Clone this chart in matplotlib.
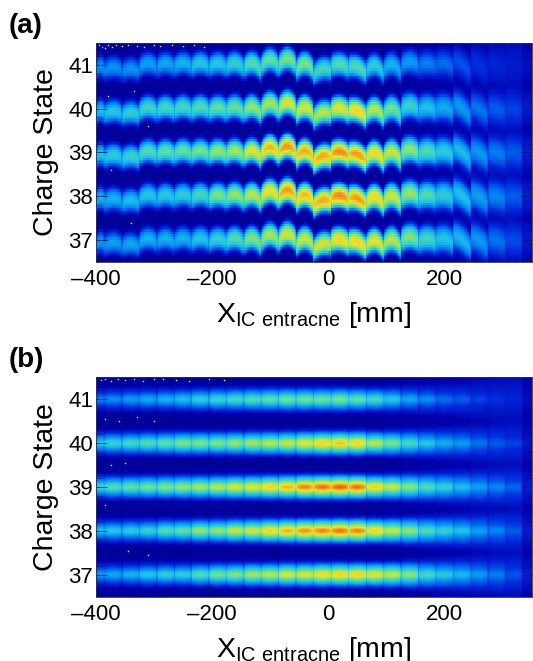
import matplotlib
matplotlib.use("Agg")
import matplotlib.pyplot as plt
import numpy as np
from matplotlib.colors import LinearSegmentedColormap
from matplotlib.ticker import MultipleLocator

plt.rcParams["font.family"] = ["Liberation Sans", "DejaVu Sans"]
plt.rcParams["mathtext.fontset"] = "custom"
plt.rcParams["mathtext.rm"] = "Liberation Sans"

# Detector segment edges [mm]
edges = [-400, -386, -356, -326, -296, -266, -236, -206, -176, -146, -116, -86, -56, -26,
         5, 35, 65, 95, 125, 155, 185, 215, 245, 275, 305, 334, 350]
states = [41, 40, 39, 38, 37]

# Peak colour level of every band in every segment
peaks_a = {
    41: [.33, .33, .33, .35, .36, .38, .42, .42, .45, .50, .52, .55, .55, .48, .50, .50, .44, .38, .34, .30, .28, .25, .21, .19, .17, .14],
    40: [.40, .42, .44, .47, .48, .48, .50, .52, .53, .58, .60, .66, .66, .62, .68, .72, .62, .54, .46, .41, .37, .34, .29, .26, .23, .17],
    39: [.42, .44, .46, .50, .52, .53, .55, .58, .60, .68, .76, .80, .78, .78, .82, .80, .72, .65, .58, .50, .44, .40, .34, .30, .26, .18],
    38: [.38, .38, .40, .42, .43, .44, .48, .55, .58, .62, .70, .80, .75, .78, .82, .80, .72, .65, .58, .50, .44, .41, .35, .31, .26, .18],
    37: [.34, .35, .36, .38, .38, .38, .42, .45, .50, .56, .60, .65, .64, .66, .72, .72, .68, .62, .56, .48, .42, .39, .34, .29, .24, .17],
}
peaks_b = {
    41: [.30, .32, .34, .36, .38, .40, .44, .46, .48, .50, .52, .54, .54, .54, .55, .52, .48, .42, .36, .32, .28, .26, .23, .21, .19, .14],
    40: [.42, .46, .48, .50, .52, .56, .56, .56, .58, .60, .62, .64, .68, .72, .74, .72, .62, .55, .48, .42, .37, .34, .29, .26, .23, .16],
    39: [.46, .50, .52, .54, .56, .58, .60, .62, .66, .68, .72, .76, .82, .84, .86, .84, .72, .64, .57, .50, .45, .40, .35, .31, .27, .18],
    38: [.40, .42, .43, .45, .50, .52, .58, .58, .64, .66, .72, .76, .80, .82, .84, .82, .72, .64, .58, .50, .45, .41, .35, .31, .26, .18],
    37: [.34, .36, .38, .42, .44, .44, .50, .54, .56, .60, .62, .66, .66, .70, .72, .72, .68, .63, .57, .48, .43, .39, .34, .30, .25, .18],
}

# Band shape per segment in panel (a), in charge-state units
shift_a = [-.03, -.05, -.08, .04, .04, .05, .05, .04, .05, .05, .13, .15, .04, -.08, .02, -.04, 0, .02, .08, .04, .04, .02, 0, 0, 0, 0]
arch_a = [.08, .08, .08, .10, .10, .10, .10, .10, .12, .15, .17, .17, .17, .10, .08, .08, .17, .17, .10, .08, .08, .05, .05, .03, .02, 0]
tilt_a = [0, 0, 0, 0, 0, 0, 0, 0, -.02, -.03, 0, 0, 0, .05, -.03, -.08, -.03, -.03, 0, 0, -.03, -.15, -.12, -.05, -.02, 0]
widths = [.28, .28, .28, .28, .28, .28, .28, .28, .28, .28, .28, .28, .28, .28, .28, .28, .28, .29, .30, .31, .32, .33, .35, .36, .37, .38]
floors = [.05, .05, .05, .05, .05, .05, .05, .05, .05, .05, .05, .05, .05, .05, .05, .05, .05, .06, .07, .08, .09, .10, .11, .12, .13, .10]

# Isolated hot pixels near the top left corner
hot_x_a = [-395, -390, -385, -380, -372, -365, -355, -345, -330, -318, -300, -290, -270, -250, -232, -215, -380, -335, -310, -340, -375]
hot_y_a = [41.45, 41.42, 41.38, 41.46, 41.40, 41.45, 41.43, 41.46, 41.44, 41.41, 41.46, 41.43, 41.45, 41.44, 41.46, 41.42, 40.3, 40.4, 39.6, 37.4, 38.6]
hot_x_b = [-392, -384, -375, -362, -350, -335, -320, -300, -285, -262, -240, -205, -180, -385, -360, -330, -300, -375, -350, -385, -345, -310]
hot_y_b = [41.44, 41.46, 41.41, 41.46, 41.43, 41.46, 41.42, 41.45, 41.46, 41.44, 41.42, 41.45, 41.43, 40.55, 40.5, 40.6, 40.5, 39.5, 39.55, 38.6, 37.55, 37.45]

cmap_colors = ["#000082", "#0000aa", "#0028dc", "#0082f0", "#1ebeeb", "#50dcaa", "#aae650", "#f0e128", "#f5961e", "#e13c14", "#960000"]
root_cmap = LinearSegmentedColormap.from_list("root_rainbow", cmap_colors)

X = np.linspace(-400, 350, 436)
Y = np.linspace(36.5, 41.5, 220)


def band_image(peaks, shift, arch, tilt, sharp):
    img = np.zeros((len(Y), len(X)))
    seg = np.clip(np.searchsorted(edges, X, side="right") - 1, 0, len(edges) - 2)
    for i, x in enumerate(X):
        s = seg[i]
        lo, hi = edges[s], edges[s + 1]
        t = 2 * (x - lo) / (hi - lo) - 1
        level = np.full(len(Y), floors[s], dtype=float)
        for q in states:
            yc = q + shift[s] + tilt[s] * t - arch[s] * t**2
            d = np.abs(Y - yc)
            # brighter core on top of a wider halo
            prof = (1 - sharp) * np.exp(-((d / widths[s]) ** 3)) + sharp * np.exp(-((d / 0.1) ** 2))
            level = np.maximum(level, floors[s] + (peaks[q][s] - floors[s]) * prof * (1 - 0.1 * t**2))
        # dark gap at the segment boundaries
        edge_dist = min(x - lo, hi - x)
        if edge_dist < 1.2 and lo > -400 and hi < 350:
            level *= 0.88
        img[:, i] = level
    return img


def draw_panel(ax, img, hot_x, hot_y):
    ax.pcolormesh(X, Y, img, cmap=root_cmap, vmin=0, vmax=1, shading="auto", rasterized=True)
    ax.scatter(hot_x, hot_y, s=1.2, c="#dfeeff", linewidths=0)
    ax.set_xlim(-400, 350)
    ax.set_ylim(36.5, 41.5)
    ax.set_xticks([-400, -200, 0, 200])
    ax.set_xticklabels(["\u2013400", "\u2013200", "0", "200"])
    ax.set_yticks(states)
    ax.yaxis.set_minor_locator(MultipleLocator(0.2))
    ax.xaxis.set_minor_locator(MultipleLocator(40))
    ax.tick_params(axis="both", which="major", direction="in", length=8, width=0.5, color="#101040", labelsize=16)
    ax.tick_params(axis="both", which="minor", direction="in", length=4, width=0.4, color="#101040")
    ax.tick_params(axis="x", which="major", pad=5)
    ax.tick_params(axis="y", which="major", pad=2)
    ax.tick_params(axis="y", right=True, which="both")
    ax.set_ylabel("Charge State", fontsize=20.5, labelpad=7)
    ax.set_xlabel(r"X$_{\mathrm{IC\ entracne}}$ [mm]", fontsize=20.5, labelpad=7)
    for sp in ax.spines.values():
        sp.set_linewidth(0.6)
        sp.set_color("#30304a")


W, H = 533, 661
fig = plt.figure(figsize=(W / 100, H / 100), dpi=100)
ax_a = fig.add_axes([96 / W, 1 - 262 / H, 436 / W, 219 / H])
ax_b = fig.add_axes([96 / W, 1 - 597 / H, 436 / W, 220 / H])

zeros = [0] * len(shift_a)
draw_panel(ax_a, band_image(peaks_a, shift_a, arch_a, tilt_a, 0.12), hot_x_a, hot_y_a)
draw_panel(ax_b, band_image(peaks_b, zeros, zeros, zeros, 0.3), hot_x_b, hot_y_b)

fig.text(9 / W, 1 - 33 / H, "(a)", fontsize=20, fontweight="bold")
fig.text(9 / W, 1 - 367 / H, "(b)", fontsize=20, fontweight="bold")

fig.savefig("out.png", dpi=100)
